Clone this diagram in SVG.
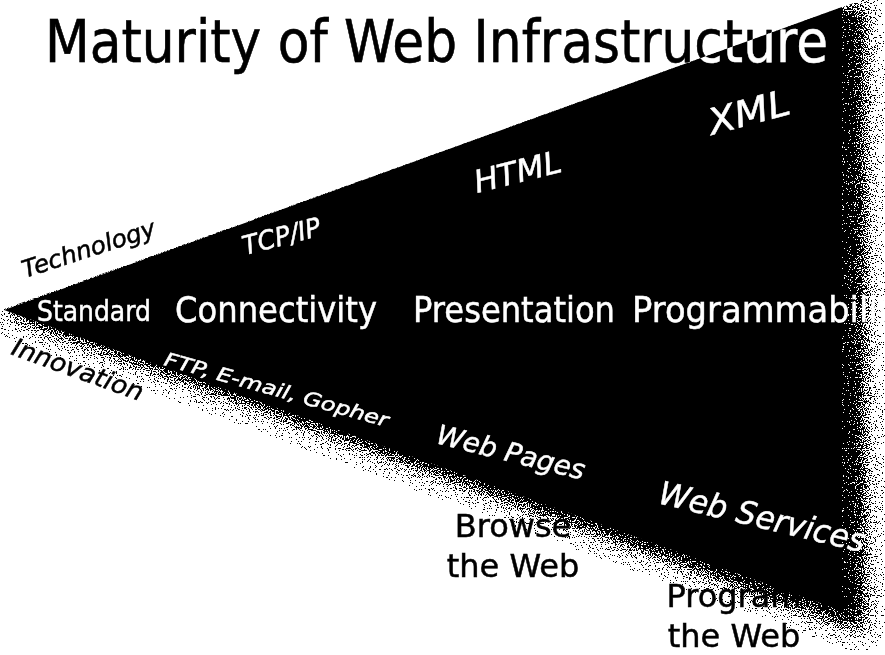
<svg xmlns="http://www.w3.org/2000/svg" width="885" height="655" viewBox="0 0 885 655">
  <style>
    text { font-family: "DejaVu Sans", "Liberation Sans", sans-serif; stroke-width: 0.5px; }
    .dark { fill: #000; stroke: #000; }
    .light { fill: #fff; stroke: #fff; }
    .it { font-style: italic; }
    .title { font-size: 58px; mix-blend-mode: difference; }
    .stage { font-size: 36px; }
    .tech { font-size: 31px; }
    .cap { font-size: 32px; text-anchor: middle; }
  </style>
  <defs>
    <!-- grainy halftone edge: blurred alpha thresholded against pixel noise -->
    <filter id="grain" filterUnits="userSpaceOnUse" x="0" y="0" width="885" height="655" color-interpolation-filters="sRGB">
      <feGaussianBlur in="SourceAlpha" stdDeviation="10" result="soft"/>
      <feTurbulence type="fractalNoise" baseFrequency="0.85" numOctaves="1" seed="7" result="noise"/>
      <feColorMatrix in="noise" type="matrix" values="0 0 0 0 0  0 0 0 0 0  0 0 0 0 0  3 0 0 0 -1" result="n"/>
      <feComposite in="soft" in2="n" operator="arithmetic" k1="0" k2="1" k3="-1" k4="0.49" result="d"/>
      <feComponentTransfer in="d">
        <feFuncR type="table" tableValues="0 0"/>
        <feFuncG type="table" tableValues="0 0"/>
        <feFuncB type="table" tableValues="0 0"/>
        <feFuncA type="discrete" tableValues="0 1"/>
      </feComponentTransfer>
    </filter>
    <!-- everything below the crisp upper edge of the wedge -->
    <clipPath id="belowTop">
      <polygon points="-5,312.4 885,-8.2 885,655 -5,655"/>
    </clipPath>
  </defs>

  <rect width="885" height="655" fill="#fff"/>

  <!-- the black wedge: grainy lower and right edges, crisp core -->
  <g id="wedge">
    <g clip-path="url(#belowTop)">
      <polygon points="-2,313 866,-1 866,634" fill="#000" filter="url(#grain)"/>
    </g>
    <polygon points="4,310 842,7 842,611" fill="#000"/>
  </g>

  <!-- heading: white text in difference mode reads black on paper, white on the wedge -->
  <g id="title">
    <text class="title light" x="45" y="62" textLength="783" lengthAdjust="spacingAndGlyphs">Maturity of Web Infrastructure</text>
  </g>

  <!-- upper side: technologies -->
  <g id="technology">
    <text class="dark it" font-size="24" transform="translate(25,278) rotate(-18)" textLength="139" lengthAdjust="spacingAndGlyphs">Technology</text>
  </g>
  <g id="tcpip">
    <text class="light it" font-size="26" transform="translate(245,255) rotate(-14.5)" textLength="80" lengthAdjust="spacingAndGlyphs">TCP/IP</text>
  </g>
  <g id="html">
    <text class="light it tech" transform="translate(477,193) rotate(-14)" textLength="89" lengthAdjust="spacingAndGlyphs">HTML</text>
  </g>
  <g id="xml">
    <text class="light it" font-size="36" transform="translate(712,135) rotate(-15)" textLength="83" lengthAdjust="spacingAndGlyphs">XML</text>
  </g>

  <!-- middle: stages -->
  <g id="standard">
    <text class="light" font-size="28" x="37" y="321" textLength="114" lengthAdjust="spacingAndGlyphs">Standard</text>
  </g>
  <g id="connectivity">
    <text class="light stage" x="175" y="322" textLength="202" lengthAdjust="spacingAndGlyphs">Connectivity</text>
  </g>
  <g id="presentation">
    <text class="light stage" x="413" y="322" textLength="202" lengthAdjust="spacingAndGlyphs">Presentation</text>
  </g>
  <g id="programmability">
    <text class="light stage" x="632" y="322" textLength="279" lengthAdjust="spacingAndGlyphs">Programmability</text>
  </g>

  <!-- lower side: innovations -->
  <g id="innovation">
    <text class="dark it" font-size="25" transform="translate(10,354) rotate(20)" textLength="138" lengthAdjust="spacingAndGlyphs">Innovation</text>
  </g>
  <g id="ftp">
    <text class="light it" font-size="19" transform="translate(163,365) rotate(15.5)" textLength="232" lengthAdjust="spacingAndGlyphs">FTP, E-mail, Gopher</text>
  </g>
  <g id="web-pages">
    <text class="light it" font-size="27" transform="translate(435,443) rotate(14)" textLength="152" lengthAdjust="spacingAndGlyphs">Web Pages</text>
  </g>
  <g id="web-services">
    <text class="light it" font-size="32" transform="translate(657,503) rotate(13.5)" textLength="211" lengthAdjust="spacingAndGlyphs">Web Services</text>
  </g>

  <!-- outcomes below the wedge -->
  <g id="browse">
    <text class="dark cap" x="513" y="537">Browse</text>
    <text class="dark cap" x="513" y="577">the Web</text>
  </g>
  <g id="program">
    <text class="dark cap" x="734" y="607">Program</text>
    <text class="dark cap" x="734" y="647">the Web</text>
  </g>
</svg>
